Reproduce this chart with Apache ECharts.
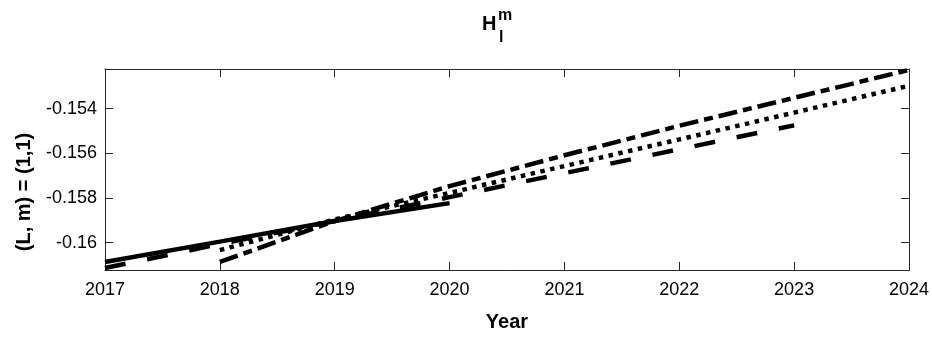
<!DOCTYPE html>
<html><head><meta charset="utf-8">
<script src="https://cdn.jsdelivr.net/npm/echarts@6/dist/echarts.min.js"></script>
<style>html,body{margin:0;padding:0;background:#fff}#c{width:932px;height:341px}</style>
</head><body><div id="c"></div>
<script>
const solidYears = [2017, 2018, 2019, 2020];
const solidVals = [-0.16086, -0.15995, -0.15903, -0.15823];
const dashedYears = [2017, 2018, 2019, 2020, 2021, 2022, 2023];
const dashedVals = [-0.16113, -0.16006, -0.15903, -0.15796, -0.15689, -0.15582, -0.15475];
const dottedYears = [2018, 2019, 2020, 2021, 2022, 2023, 2024];
const dottedVals = [-0.16033, -0.15896, -0.15777, -0.15657, -0.15538, -0.15418, -0.15298];
const dashDotYears = [2018, 2019, 2020, 2021, 2022, 2023, 2024];
const dashDotVals = [-0.16086, -0.15903, -0.15747, -0.15609, -0.15477, -0.15352, -0.15227];
const yTicks = [-0.16, -0.158, -0.156, -0.154];
const yTickLabels = ['-0.16', '-0.158', '-0.156', '-0.154'];
const xMin = 2017, xMax = 2024;
const yMin = -0.16122, yMax = -0.15223;

const font = 'Liberation Sans, Arial, Helvetica, sans-serif';
const axCol = '#262626';
const zip = (xs, ys) => xs.map((x, i) => [x, ys[i]]);

const chart = echarts.init(document.getElementById('c'), null, {renderer: 'canvas'});
const baseX = {
  type: 'value', min: xMin, max: xMax, interval: 1,
  axisLine: {show: true, onZero: false, lineStyle: {color: axCol, width: 1}},
  axisTick: {show: true, inside: true, length: 8, lineStyle: {color: axCol}},
  splitLine: {show: false}
};
const baseY = {
  type: 'value', min: yMin, max: yMax,
  axisLine: {show: true, onZero: false, lineStyle: {color: axCol, width: 1}},
  axisTick: {show: true, inside: true, length: 8, customValues: yTicks, lineStyle: {color: axCol}},
  splitLine: {show: false}
};
const mk = (name, xs, ys, type) => ({
  name, type: 'line', data: zip(xs, ys), showSymbol: false, symbol: 'none',
  lineStyle: {color: '#000', width: 4.5, type: type, cap: 'butt'}, z: 3, animation: false
});
chart.setOption({
  animation: false,
  grid: {left: 105, right: 23, top: 69, bottom: 71, containLabel: false},
  xAxis: [
    Object.assign({}, baseX, {
      position: 'bottom', name: 'Year', nameLocation: 'middle', nameGap: 42,
      nameTextStyle: {fontFamily: font, fontSize: 20, fontWeight: 'bold', color: '#000'},
      axisLabel: {show: true, margin: 11, fontFamily: font, fontSize: 18, color: '#000',
        formatter: v => String(v)}
    }),
    Object.assign({}, baseX, {position: 'top', axisLabel: {show: false}})
  ],
  yAxis: [
    Object.assign({}, baseY, {
      position: 'left',
      axisLabel: {show: true, margin: 8, fontFamily: font, fontSize: 18, color: '#000',
        customValues: yTicks,
        formatter: v => { const i = yTicks.findIndex(t => Math.abs(t - v) < 1e-9); return i >= 0 ? yTickLabels[i] : ''; }}
    }),
    Object.assign({}, baseY, {position: 'right', axisLabel: {show: false}})
  ],
  series: [
    mk('solid', solidYears, solidVals, 'solid'),
    mk('dashed', dashedYears, dashedVals, [21, 22]),
    mk('dotted', dottedYears, dottedVals, [4.5, 5.5]),
    mk('dashdot', dashDotYears, dashDotVals, [19, 6, 9, 6])
  ],
  graphic: [
    {type: 'text', left: 482, top: 14, style: {text: 'H', fontFamily: font, fontSize: 20, fontWeight: 'bold', fill: '#000'}},
    {type: 'text', left: 498, top: 8, style: {text: 'm', fontFamily: font, fontSize: 16, fontWeight: 'bold', fill: '#000'}},
    {type: 'text', left: 499, top: 30, style: {text: 'l', fontFamily: font, fontSize: 16, fontWeight: 'bold', fill: '#000'}},
    {type: 'text', x: 24, y: 192, rotation: Math.PI / 2,
      style: {text: '(L, m) = (1,1)', fontFamily: font, fontSize: 20, fontWeight: 'bold', fill: '#000', align: 'center', verticalAlign: 'middle'}}
  ]
});
</script></body></html>
